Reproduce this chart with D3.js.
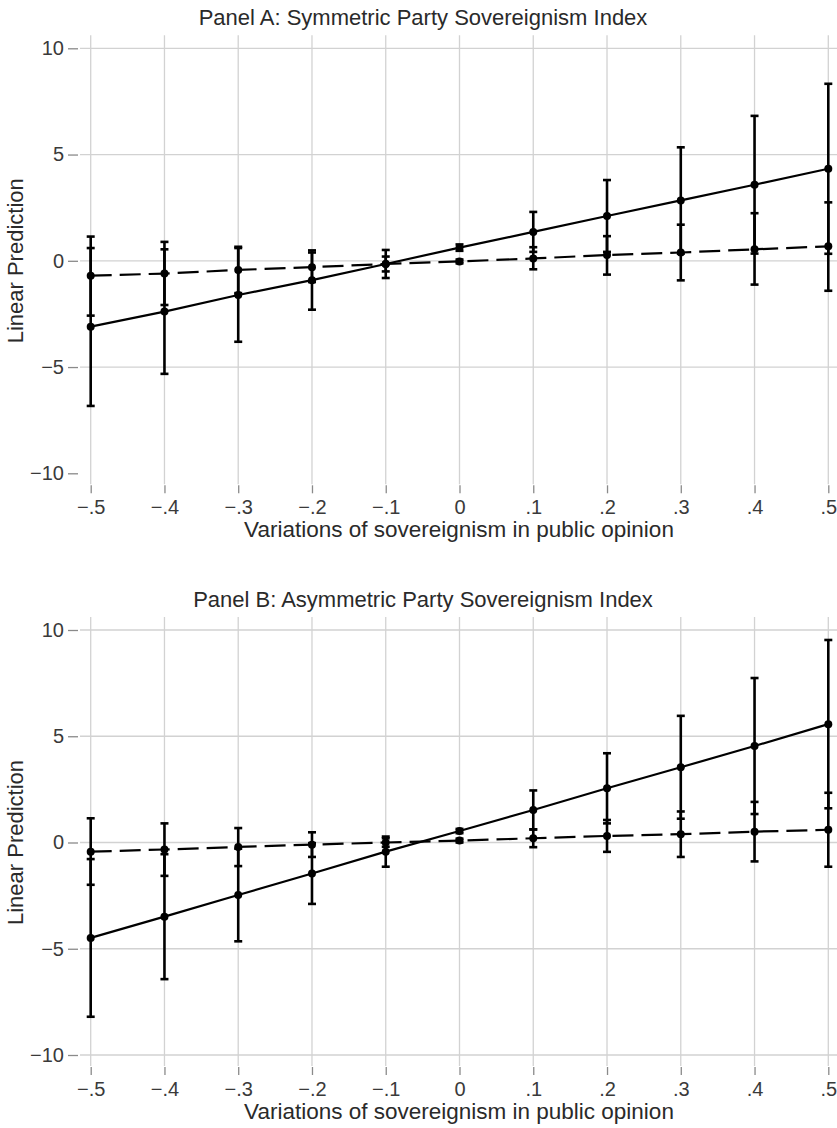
<!DOCTYPE html>
<html>
<head>
<meta charset="utf-8">
<script src="https://cdn.jsdelivr.net/npm/d3@7"></script>
<style>
  html, body { margin: 0; padding: 0; background: #fff; }
  svg { display: block; font-family: "Liberation Sans", Arial, Helvetica, sans-serif; }
</style>
</head>
<body>
<svg id="chart" width="837" height="1128"></svg>
<script>
// values
const xValues = [-0.5, -0.4, -0.3, -0.2, -0.1, 0, 0.1, 0.2, 0.3, 0.4, 0.5];
const yTicks = [-10, -5, 0, 5, 10];

// Panel A: symmetric index
const symSolid   = [-3.10, -2.39, -1.61, -0.91, -0.15, 0.62, 1.36, 2.11, 2.84, 3.58, 4.33];
const symSolidLo = [-6.83, -5.32, -3.81, -2.30, -0.81, 0.47, 0.42, 0.42, 0.34, 0.34, 0.33];
const symSolidHi = [0.60, 0.54, 0.60, 0.49, 0.51, 0.77, 2.30, 3.80, 5.34, 6.82, 8.33];
const symDash    = [-0.70, -0.60, -0.43, -0.30, -0.15, -0.03, 0.11, 0.27, 0.39, 0.54, 0.68];
const symDashLo  = [-2.58, -2.08, -1.52, -1.00, -0.50, -0.12, -0.40, -0.65, -0.92, -1.12, -1.41];
const symDashHi  = [1.14, 0.89, 0.66, 0.39, 0.20, 0.06, 0.64, 1.16, 1.70, 2.24, 2.75];

// Panel B: asymmetric index
const asymSolid   = [-4.49, -3.49, -2.47, -1.46, -0.43, 0.54, 1.53, 2.55, 3.54, 4.54, 5.57];
const asymSolidLo = [-8.20, -6.43, -4.65, -2.89, -1.14, 0.44, 0.61, 0.90, 1.12, 1.34, 1.61];
const asymSolidHi = [-0.78, -0.55, -0.29, -0.03, 0.28, 0.64, 2.45, 4.20, 5.96, 7.74, 9.53];
const asymDash    = [-0.43, -0.33, -0.21, -0.10, 0.00, 0.09, 0.20, 0.31, 0.39, 0.51, 0.60];
const asymDashLo  = [-1.99, -1.57, -1.11, -0.68, -0.20, 0.00, -0.22, -0.44, -0.68, -0.89, -1.14];
const asymDashHi  = [1.14, 0.90, 0.68, 0.48, 0.20, 0.18, 0.62, 1.06, 1.46, 1.91, 2.34];

const panels = [
  { title: "Panel A: Symmetric Party Sovereignism Index", top: 48.3, grid: [10, 5, 0, -5],
    solid: [symSolid, symSolidLo, symSolidHi], dash: [symDash, symDashLo, symDashHi] },
  { title: "Panel B: Asymmetric Party Sovereignism Index", top: 630, grid: [10, 5, 0, -5, -10],
    solid: [asymSolid, asymSolidLo, asymSolidHi], dash: [asymDash, asymDashLo, asymDashHi] }
];

const svg = d3.select("#chart");
const x = d3.scaleLinear().domain([-0.5, 0.5]).range([90.7, 828.3]);

const fmtX = d => d === 0 ? "0" : (d < 0 ? "\u2212" : "") + String(Math.abs(d)).replace(/^0/, "");
const fmtY = d => (d < 0 ? "\u2212" : "") + Math.abs(d);

panels.forEach(p => {
  const y = d3.scaleLinear().domain([-10, 10]).range([p.top + 425, p.top]);
  const g = svg.append("g");

  // grid
  g.selectAll(".vgrid").data(xValues).enter().append("line")
    .attr("x1", d => x(d)).attr("x2", d => x(d))
    .attr("y1", y(10) - 13).attr("y2", y(-10) + 11)
    .style("stroke", "#d2d2d2").style("stroke-width", 1.3);
  g.selectAll(".hgrid").data(p.grid).enter().append("line")
    .attr("x1", 80).attr("x2", 837)
    .attr("y1", d => y(d)).attr("y2", d => y(d))
    .style("stroke", "#d2d2d2").style("stroke-width", 1.3);

  // axes
  const ya = g.append("g").attr("transform", "translate(78,0)")
    .call(d3.axisLeft(y).tickValues(yTicks).tickSize(10).tickPadding(4).tickFormat(fmtY));
  const xa = g.append("g").attr("transform", `translate(0,${y(-10) + 12})`)
    .call(d3.axisBottom(x).tickValues(xValues).tickSize(8).tickPadding(7).tickFormat(fmtX));
  [ya, xa].forEach(a => {
    a.select(".domain").remove();
    a.selectAll("line").style("stroke", "#8a8a8a").style("stroke-width", 1.3);
    a.selectAll("text").style("font-size", "20px").style("fill", "#3a3a3a")
      .style("font-family", "'Liberation Sans', Arial, sans-serif");
  });

  // titles
  g.append("text").attr("x", 423).attr("y", p.top - 23).attr("text-anchor", "middle")
    .style("font-size", "22px").style("fill", "#2a2a2a").text(p.title);
  g.append("text").attr("x", 459).attr("y", y(-10) + 64).attr("text-anchor", "middle")
    .style("font-size", "22.5px").style("fill", "#2a2a2a").text("Variations of sovereignism in public opinion");
  g.append("text").attr("transform", `translate(23,${y(0)}) rotate(-90)`).attr("text-anchor", "middle")
    .style("font-size", "22px").style("fill", "#2a2a2a").text("Linear Prediction");

  // series: dashed first, solid on top
  [[p.dash, "21,8"], [p.solid, null]].forEach(([s, dash]) => {
    const [mid, lo, hi] = s;
    const pts = xValues.map((v, i) => ({ x: v, m: mid[i], lo: lo[i], hi: hi[i] }));
    g.append("path").datum(pts)
      .attr("d", d3.line().x(d => x(d.x)).y(d => y(d.m)))
      .style("fill", "none").style("stroke", "#000").style("stroke-width", 2.2)
      .style("stroke-dasharray", dash);
    const eb = g.selectAll(null).data(pts).enter().append("g");
    eb.append("line").attr("x1", d => x(d.x)).attr("x2", d => x(d.x))
      .attr("y1", d => y(d.lo)).attr("y2", d => y(d.hi))
      .style("stroke", "#000").style("stroke-width", 2.6);
    ["lo", "hi"].forEach(k => {
      eb.append("line").attr("x1", d => x(d.x) - 4).attr("x2", d => x(d.x) + 4)
        .attr("y1", d => y(d[k])).attr("y2", d => y(d[k]))
        .style("stroke", "#000").style("stroke-width", 2.6);
    });
    eb.append("circle").attr("cx", d => x(d.x)).attr("cy", d => y(d.m)).attr("r", 4)
      .style("fill", "#000");
  });
});
</script>
</body>
</html>
